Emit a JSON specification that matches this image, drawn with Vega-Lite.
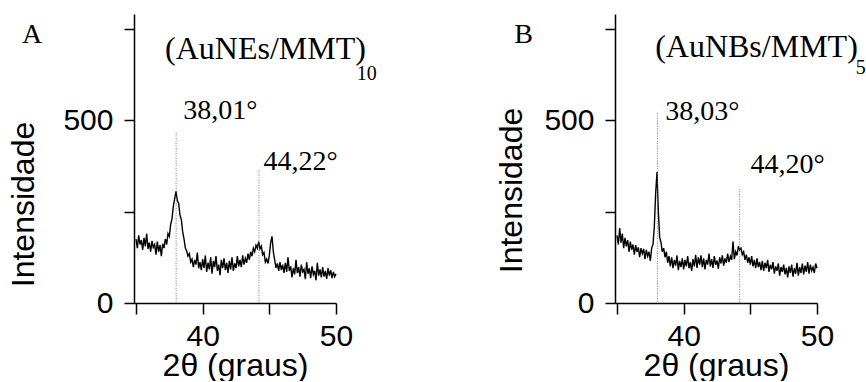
{
"$schema": "https://vega.github.io/schema/vega-lite/v6.json",
"background": "white",
"padding": {"left": 7, "top": 13, "right": 0, "bottom": 0},
"bounds": "flush",
"spacing": 279,
"config": {"view": {"stroke": null}, "font": "Liberation Sans"},
"datasets": {
"xrd": [
{"t":35.0,"a":175,"b":185},{"t":35.1,"a":150,"b":160},{"t":35.2,"a":185,"b":205},{"t":35.3,"a":160,"b":165},{"t":35.4,"a":172,"b":190},
{"t":35.5,"a":145,"b":150},{"t":35.6,"a":178,"b":178},{"t":35.7,"a":155,"b":155},{"t":35.8,"a":190,"b":172},{"t":35.9,"a":148,"b":140},
{"t":36.0,"a":165,"b":168},{"t":36.1,"a":140,"b":145},{"t":36.2,"a":170,"b":160},{"t":36.3,"a":152,"b":132},{"t":36.4,"a":160,"b":158},
{"t":36.5,"a":132,"b":140},{"t":36.6,"a":168,"b":152},{"t":36.7,"a":140,"b":125},{"t":36.8,"a":158,"b":150},{"t":36.9,"a":128,"b":135},
{"t":37.0,"a":162,"b":148},{"t":37.1,"a":150,"b":120},{"t":37.2,"a":175,"b":145},{"t":37.3,"a":160,"b":128},{"t":37.4,"a":190,"b":140},
{"t":37.5,"a":182,"b":115},{"t":37.6,"a":215,"b":150},{"t":37.7,"a":230,"b":160},{"t":37.8,"a":265,"b":210},{"t":37.9,"a":285,"b":300},
{"t":38.0,"a":305,"b":358},{"t":38.1,"a":280,"b":250},{"t":38.2,"a":272,"b":180},{"t":38.3,"a":240,"b":165},{"t":38.4,"a":228,"b":140},
{"t":38.5,"a":195,"b":150},{"t":38.6,"a":175,"b":125},{"t":38.7,"a":150,"b":140},{"t":38.8,"a":142,"b":110},{"t":38.9,"a":128,"b":128},
{"t":39.0,"a":135,"b":100},{"t":39.1,"a":112,"b":125},{"t":39.2,"a":120,"b":95},{"t":39.3,"a":98,"b":118},{"t":39.4,"a":118,"b":102},
{"t":39.5,"a":105,"b":130},{"t":39.6,"a":138,"b":90},{"t":39.7,"a":95,"b":115},{"t":39.8,"a":112,"b":98},{"t":39.9,"a":90,"b":122},
{"t":40.0,"a":120,"b":92},{"t":40.1,"a":96,"b":118},{"t":40.2,"a":130,"b":100},{"t":40.3,"a":85,"b":128},{"t":40.4,"a":110,"b":95},
{"t":40.5,"a":92,"b":112},{"t":40.6,"a":125,"b":88},{"t":40.7,"a":80,"b":120},{"t":40.8,"a":115,"b":100},{"t":40.9,"a":98,"b":132},
{"t":41.0,"a":128,"b":96},{"t":41.1,"a":88,"b":125},{"t":41.2,"a":105,"b":105},{"t":41.3,"a":76,"b":130},{"t":41.4,"a":118,"b":98},
{"t":41.5,"a":95,"b":122},{"t":41.6,"a":122,"b":92},{"t":41.7,"a":90,"b":118},{"t":41.8,"a":110,"b":105},{"t":41.9,"a":82,"b":135},
{"t":42.0,"a":115,"b":100},{"t":42.1,"a":92,"b":120},{"t":42.2,"a":125,"b":96},{"t":42.3,"a":88,"b":128},{"t":42.4,"a":108,"b":104},
{"t":42.5,"a":95,"b":116},{"t":42.6,"a":128,"b":94},{"t":42.7,"a":100,"b":125},{"t":42.8,"a":118,"b":108},{"t":42.9,"a":98,"b":130},
{"t":43.0,"a":130,"b":102},{"t":43.1,"a":105,"b":122},{"t":43.2,"a":122,"b":110},{"t":43.3,"a":110,"b":135},{"t":43.4,"a":135,"b":112},
{"t":43.5,"a":118,"b":128},{"t":43.6,"a":140,"b":118},{"t":43.7,"a":128,"b":168},{"t":43.8,"a":150,"b":120},{"t":43.9,"a":140,"b":140},
{"t":44.0,"a":158,"b":130},{"t":44.1,"a":150,"b":155},{"t":44.2,"a":168,"b":145},{"t":44.3,"a":148,"b":150},{"t":44.4,"a":155,"b":132},
{"t":44.5,"a":132,"b":140},{"t":44.6,"a":138,"b":118},{"t":44.7,"a":112,"b":132},{"t":44.8,"a":120,"b":110},{"t":44.9,"a":108,"b":125},
{"t":45.0,"a":130,"b":105},{"t":45.1,"a":165,"b":128},{"t":45.2,"a":182,"b":100},{"t":45.3,"a":140,"b":118},{"t":45.4,"a":118,"b":95},
{"t":45.5,"a":96,"b":122},{"t":45.6,"a":108,"b":98},{"t":45.7,"a":88,"b":112},{"t":45.8,"a":112,"b":90},{"t":45.9,"a":90,"b":115},
{"t":46.0,"a":105,"b":88},{"t":46.1,"a":82,"b":110},{"t":46.2,"a":110,"b":95},{"t":46.3,"a":85,"b":118},{"t":46.4,"a":125,"b":85},
{"t":46.5,"a":88,"b":105},{"t":46.6,"a":100,"b":92},{"t":46.7,"a":70,"b":112},{"t":46.8,"a":95,"b":80},{"t":46.9,"a":78,"b":100},
{"t":47.0,"a":118,"b":88},{"t":47.1,"a":82,"b":108},{"t":47.2,"a":98,"b":75},{"t":47.3,"a":72,"b":98},{"t":47.4,"a":105,"b":85},
{"t":47.5,"a":85,"b":105},{"t":47.6,"a":92,"b":78},{"t":47.7,"a":65,"b":96},{"t":47.8,"a":112,"b":70},{"t":47.9,"a":80,"b":100},
{"t":48.0,"a":95,"b":82},{"t":48.1,"a":68,"b":105},{"t":48.2,"a":100,"b":72},{"t":48.3,"a":78,"b":95},{"t":48.4,"a":88,"b":80},
{"t":48.5,"a":62,"b":110},{"t":48.6,"a":110,"b":75},{"t":48.7,"a":75,"b":98},{"t":48.8,"a":92,"b":82},{"t":48.9,"a":70,"b":108},
{"t":49.0,"a":98,"b":78},{"t":49.1,"a":72,"b":102},{"t":49.2,"a":88,"b":85},{"t":49.3,"a":66,"b":112},{"t":49.4,"a":95,"b":80},
{"t":49.5,"a":75,"b":105},{"t":49.6,"a":90,"b":88},{"t":49.7,"a":68,"b":98},{"t":49.8,"a":85,"b":82},{"t":49.9,"a":72,"b":108},
{"t":50.0,"a":80,"b":95}
],
"peaks": [
{"panel":"A","t":38.01,"top":465},
{"panel":"A","t":44.22,"top":364},
{"panel":"B","t":38.03,"top":519},
{"panel":"B","t":44.20,"top":312}
],
"notes": [
{"panel":"A","kind":"letter","t":26.45,"v":711,"label":"A"},
{"panel":"A","kind":"title","t":37.18,"v":667,"label":"(AuNEs/MMT)"},
{"panel":"A","kind":"sub","t":51.55,"v":610,"label":"10"},
{"panel":"A","kind":"peak","t":38.54,"v":503,"label":"38,01°"},
{"panel":"A","kind":"peak","t":44.56,"v":364,"label":"44,22°"},
{"panel":"B","kind":"letter","t":27.3,"v":711,"label":"B"},
{"panel":"B","kind":"title","t":37.86,"v":672,"label":"(AuNBs/MMT)"},
{"panel":"B","kind":"sub","t":52.91,"v":627,"label":"5"},
{"panel":"B","kind":"peak","t":38.61,"v":500,"label":"38,03°"},
{"panel":"B","kind":"peak","t":45.01,"v":355,"label":"44,20°"}
]
},
"hconcat": [
{
"width": 202, "height": 289,
"layer": [
{"data": {"name": "xrd"},
 "mark": {"type": "line", "color": "black", "strokeWidth": 1.4},
 "encoding": {
  "x": {"field": "t", "type": "quantitative", "scale": {"domain": [34.85, 50], "nice": false, "zero": false},
   "axis": {"title": "2θ (graus)", "values": [35,40,45,50], "labelExpr": "datum.value % 10 === 0 ? datum.label : ''", "grid": false,
    "domainColor": "black", "domainWidth": 1.5, "tickColor": "black", "tickWidth": 1.5, "tickSize": 11,
    "encode": {"ticks": {"update": {"y2": {"signal": "datum.value % 10 === 0 ? 11 : 5"}}}},
    "labelFontSize": 30, "labelColor": "black", "labelPadding": 7, "labelFont": "Liberation Sans", "labelFlush": false, "labelOverlap": false,
    "titleFont": "Liberation Sans", "titleFontSize": 32, "titleFontWeight": "normal", "titleColor": "black", "titleY": 72, "titleBaseline": "alphabetic"}},
  "y": {"field": "a", "type": "quantitative", "scale": {"domain": [0, 790], "nice": false},
   "axis": {"title": "Intensidade", "values": [0,250,500,750], "labelExpr": "datum.value === 0 || datum.value === 500 ? datum.label : ''", "grid": false,
    "domainColor": "black", "domainWidth": 1.5, "tickColor": "black", "tickWidth": 1.5, "tickSize": 10,
    "encode": {"ticks": {"update": {"x2": {"signal": "datum.value % 500 === 0 ? -10 : -5"}}}},
    "labelFontSize": 30, "labelColor": "black", "labelPadding": 11, "labelFont": "Liberation Sans", "labelFlush": false, "labelOverlap": false,
    "titleFont": "Liberation Sans", "titleFontSize": 32, "titleFontWeight": "normal", "titleColor": "black",
    "titleX": -101, "titleY": 190, "titleAngle": -90, "titleAlign": "center", "titleBaseline": "alphabetic"}}
 }},
{"data": {"name": "peaks"}, "transform": [{"filter": "datum.panel === 'A'"}],
 "mark": {"type": "rule", "color": "#555555", "strokeWidth": 0.8, "strokeDash": [1, 1.5]},
 "encoding": {
  "x": {"field": "t", "type": "quantitative", "scale": {"domain": [34.85, 50], "nice": false, "zero": false}},
  "y": {"field": "top", "type": "quantitative", "scale": {"domain": [0, 790], "nice": false}},
  "y2": {"datum": 0}
 }},
{"data": {"name": "notes"}, "transform": [{"filter": "datum.panel === 'A' && datum.kind === 'letter'"}],
 "mark": {"type": "text", "font": "Liberation Serif", "fontSize": 28, "align": "left", "baseline": "alphabetic", "color": "black"},
 "encoding": {
  "x": {"field": "t", "type": "quantitative", "scale": {"domain": [34.85, 50], "nice": false, "zero": false}},
  "y": {"field": "v", "type": "quantitative", "scale": {"domain": [0, 790], "nice": false}},
  "text": {"field": "label"}
 }},
{"data": {"name": "notes"}, "transform": [{"filter": "datum.panel === 'A' && datum.kind === 'title'"}],
 "mark": {"type": "text", "font": "Liberation Serif", "fontSize": 32, "align": "left", "baseline": "alphabetic", "color": "black"},
 "encoding": {
  "x": {"field": "t", "type": "quantitative", "scale": {"domain": [34.85, 50], "nice": false, "zero": false}},
  "y": {"field": "v", "type": "quantitative", "scale": {"domain": [0, 790], "nice": false}},
  "text": {"field": "label"}
 }},
{"data": {"name": "notes"}, "transform": [{"filter": "datum.panel === 'A' && datum.kind === 'sub'"}],
 "mark": {"type": "text", "font": "Liberation Serif", "fontSize": 20, "align": "left", "baseline": "alphabetic", "color": "black"},
 "encoding": {
  "x": {"field": "t", "type": "quantitative", "scale": {"domain": [34.85, 50], "nice": false, "zero": false}},
  "y": {"field": "v", "type": "quantitative", "scale": {"domain": [0, 790], "nice": false}},
  "text": {"field": "label"}
 }},
{"data": {"name": "notes"}, "transform": [{"filter": "datum.panel === 'A' && datum.kind === 'peak'"}],
 "mark": {"type": "text", "font": "Liberation Serif", "fontSize": 28, "align": "left", "baseline": "alphabetic", "color": "black"},
 "encoding": {
  "x": {"field": "t", "type": "quantitative", "scale": {"domain": [34.85, 50], "nice": false, "zero": false}},
  "y": {"field": "v", "type": "quantitative", "scale": {"domain": [0, 790], "nice": false}},
  "text": {"field": "label"}
 }}
]
},
{
"width": 202, "height": 289,
"layer": [
{"data": {"name": "xrd"},
 "mark": {"type": "line", "color": "black", "strokeWidth": 1.4},
 "encoding": {
  "x": {"field": "t", "type": "quantitative", "scale": {"domain": [34.85, 50], "nice": false, "zero": false},
   "axis": {"title": "2θ (graus)", "values": [35,40,45,50], "labelExpr": "datum.value % 10 === 0 ? datum.label : ''", "grid": false,
    "domainColor": "black", "domainWidth": 1.5, "tickColor": "black", "tickWidth": 1.5, "tickSize": 11,
    "encode": {"ticks": {"update": {"y2": {"signal": "datum.value % 10 === 0 ? 11 : 5"}}}},
    "labelFontSize": 30, "labelColor": "black", "labelPadding": 7, "labelFont": "Liberation Sans", "labelFlush": false, "labelOverlap": false,
    "titleFont": "Liberation Sans", "titleFontSize": 32, "titleFontWeight": "normal", "titleColor": "black", "titleY": 72, "titleBaseline": "alphabetic"}},
  "y": {"field": "b", "type": "quantitative", "scale": {"domain": [0, 790], "nice": false},
   "axis": {"title": "Intensidade", "values": [0,250,500,750], "labelExpr": "datum.value === 0 || datum.value === 500 ? datum.label : ''", "grid": false,
    "domainColor": "black", "domainWidth": 1.5, "tickColor": "black", "tickWidth": 1.5, "tickSize": 10,
    "encode": {"ticks": {"update": {"x2": {"signal": "datum.value % 500 === 0 ? -10 : -5"}}}},
    "labelFontSize": 30, "labelColor": "black", "labelPadding": 11, "labelFont": "Liberation Sans", "labelFlush": false, "labelOverlap": false,
    "titleFont": "Liberation Sans", "titleFontSize": 32, "titleFontWeight": "normal", "titleColor": "black",
    "titleX": -94, "titleY": 176, "titleAngle": -90, "titleAlign": "center", "titleBaseline": "alphabetic"}}
 }},
{"data": {"name": "peaks"}, "transform": [{"filter": "datum.panel === 'B'"}],
 "mark": {"type": "rule", "color": "#555555", "strokeWidth": 0.8, "strokeDash": [1, 1.5]},
 "encoding": {
  "x": {"field": "t", "type": "quantitative", "scale": {"domain": [34.85, 50], "nice": false, "zero": false}},
  "y": {"field": "top", "type": "quantitative", "scale": {"domain": [0, 790], "nice": false}},
  "y2": {"datum": 0}
 }},
{"data": {"name": "notes"}, "transform": [{"filter": "datum.panel === 'B' && datum.kind === 'letter'"}],
 "mark": {"type": "text", "font": "Liberation Serif", "fontSize": 28, "align": "left", "baseline": "alphabetic", "color": "black"},
 "encoding": {
  "x": {"field": "t", "type": "quantitative", "scale": {"domain": [34.85, 50], "nice": false, "zero": false}},
  "y": {"field": "v", "type": "quantitative", "scale": {"domain": [0, 790], "nice": false}},
  "text": {"field": "label"}
 }},
{"data": {"name": "notes"}, "transform": [{"filter": "datum.panel === 'B' && datum.kind === 'title'"}],
 "mark": {"type": "text", "font": "Liberation Serif", "fontSize": 32, "align": "left", "baseline": "alphabetic", "color": "black"},
 "encoding": {
  "x": {"field": "t", "type": "quantitative", "scale": {"domain": [34.85, 50], "nice": false, "zero": false}},
  "y": {"field": "v", "type": "quantitative", "scale": {"domain": [0, 790], "nice": false}},
  "text": {"field": "label"}
 }},
{"data": {"name": "notes"}, "transform": [{"filter": "datum.panel === 'B' && datum.kind === 'sub'"}],
 "mark": {"type": "text", "font": "Liberation Serif", "fontSize": 20, "align": "left", "baseline": "alphabetic", "color": "black"},
 "encoding": {
  "x": {"field": "t", "type": "quantitative", "scale": {"domain": [34.85, 50], "nice": false, "zero": false}},
  "y": {"field": "v", "type": "quantitative", "scale": {"domain": [0, 790], "nice": false}},
  "text": {"field": "label"}
 }},
{"data": {"name": "notes"}, "transform": [{"filter": "datum.panel === 'B' && datum.kind === 'peak'"}],
 "mark": {"type": "text", "font": "Liberation Serif", "fontSize": 28, "align": "left", "baseline": "alphabetic", "color": "black"},
 "encoding": {
  "x": {"field": "t", "type": "quantitative", "scale": {"domain": [34.85, 50], "nice": false, "zero": false}},
  "y": {"field": "v", "type": "quantitative", "scale": {"domain": [0, 790], "nice": false}},
  "text": {"field": "label"}
 }}
]
}
]
}
